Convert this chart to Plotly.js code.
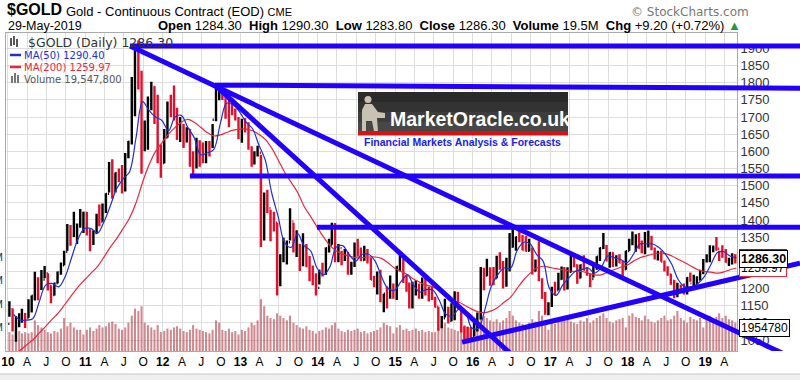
<!DOCTYPE html>
<html><head><meta charset="utf-8">
<script src="https://cdn.plot.ly/plotly-3.0.1.min.js"></script>
<style>html,body{margin:0;padding:0;background:#fff}#chart{width:800px;height:380px}</style>
</head><body><div id="chart"></div>
<script>
// ---------- DATA (semi-monthly bars, Jan 2010 - May 2019) ----------
const high = [
 1163,1142,1120,1128,1141,1129,1169,1180,1249,1233,1254,1266,1245,1210,1217,1250,1276,1310,1388,1385,1424,1390,1432,1424,
 1423,1375,1370,1418,1445,1448,1478,1569,1577,1538,1550,1560,1595,1630,1817,1912,1923,1835,1690,1760,1803,1790,1765,1620,
 1665,1745,1765,1792,1727,1700,1680,1670,1665,1600,1640,1632,1626,1630,1630,1680,1790,1788,1798,1755,1755,1755,1725,1700,
 1695,1697,1685,1615,1600,1616,1590,1480,1488,1430,1424,1392,1300,1348,1340,1434,1392,1370,1330,1361,1330,1295,1267,1245,
 1255,1275,1320,1345,1392,1391,1330,1310,1315,1307,1278,1334,1345,1320,1325,1315,1290,1237,1250,1255,1185,1207,1238,1215,
 1265,1307,1287,1240,1218,1220,1224,1215,1232,1232,1206,1205,1176,1147,1120,1170,1147,1157,1192,1191,1142,1090,1088,1088,
 1112,1130,1263,1261,1287,1262,1263,1296,1306,1280,1290,1362,1377,1352,1375,1356,1353,1345,1318,1285,1338,1230,1190,1160,
 1205,1220,1246,1264,1263,1262,1297,1295,1270,1270,1297,1262,1244,1272,1294,1320,1362,1327,1306,1306,1297,1300,1281,1310,
 1345,1366,1358,1362,1340,1365,1369,1354,1320,1310,1310,1282,1265,1243,1225,1217,1212,1215,1233,1247,1240,1236,1255,1286,
 1300,1326,1322,1350,1310,1326,1315,1290,1303,1300
];
const low = [
 1118,1075,1045,1087,1100,1085,1115,1130,1165,1166,1196,1230,1194,1157,1180,1215,1240,1268,1310,1325,1350,1330,1377,1362,
 1355,1309,1327,1360,1382,1395,1420,1480,1462,1480,1510,1477,1483,1580,1620,1702,1780,1535,1600,1605,1720,1680,1565,1523,
 1565,1640,1700,1690,1633,1627,1610,1626,1555,1527,1550,1555,1565,1565,1585,1610,1688,1749,1750,1695,1670,1705,1690,1635,
 1625,1655,1605,1555,1562,1585,1321,1340,1420,1338,1366,1180,1207,1277,1270,1340,1305,1292,1251,1265,1262,1221,1210,1180,
 1212,1235,1240,1305,1328,1277,1277,1268,1280,1240,1240,1263,1293,1280,1281,1273,1225,1204,1183,1160,1131,1142,1170,1170,
 1167,1250,1216,1191,1142,1142,1180,1170,1170,1180,1162,1167,1145,1077,1084,1116,1098,1105,1108,1141,1072,1052,1046,1047,
 1062,1075,1110,1195,1236,1208,1210,1230,1255,1200,1205,1250,1320,1310,1335,1312,1308,1308,1241,1250,1221,1170,1124,1122,
 1146,1180,1196,1226,1194,1197,1247,1262,1214,1230,1253,1237,1204,1232,1255,1280,1315,1279,1261,1263,1264,1275,1236,1255,
 1310,1326,1307,1316,1303,1300,1320,1312,1285,1282,1278,1250,1237,1211,1172,1175,1190,1183,1183,1220,1198,1212,1225,1242,
 1276,1277,1306,1310,1280,1290,1276,1266,1270,1273
];
const close = [
 1140,1083,1092,1118,1124,1113,1152,1179,1228,1212,1226,1245,1208,1181,1215,1247,1268,1307,1372,1357,1367,1386,1386,1421,
 1360,1333,1362,1410,1395,1432,1476,1556,1493,1537,1528,1500,1588,1628,1751,1828,1812,1622,1680,1745,1788,1745,1575,1566,
 1640,1738,1725,1697,1660,1669,1659,1663,1572,1563,1627,1604,1593,1622,1615,1692,1772,1773,1757,1717,1714,1711,1696,1675,
 1687,1663,1609,1578,1592,1596,1352,1470,1434,1392,1392,1234,1284,1311,1335,1396,1309,1327,1276,1323,1287,1251,1233,1202,
 1252,1244,1318,1326,1379,1284,1318,1288,1293,1250,1274,1322,1306,1283,1305,1287,1226,1210,1238,1172,1185,1175,1194,1184,
 1264,1279,1227,1213,1153,1183,1203,1183,1225,1190,1178,1172,1147,1095,1113,1134,1106,1115,1179,1142,1081,1065,1062,1060,
 1090,1118,1239,1238,1250,1234,1230,1291,1274,1216,1282,1322,1328,1350,1343,1312,1310,1317,1251,1276,1225,1173,1130,1152,
 1198,1195,1228,1255,1203,1249,1287,1268,1231,1268,1255,1242,1228,1270,1293,1318,1323,1284,1304,1270,1278,1275,1256,1309,
 1340,1345,1354,1318,1317,1327,1345,1315,1290,1298,1278,1253,1241,1223,1184,1206,1201,1196,1231,1215,1223,1226,1247,1283,
 1295,1322,1322,1316,1302,1295,1277,1283,1297,1286.3
];
const firstOpen = 1097;
// volume, millions of contracts (semi-monthly)
const volumeM = [
 16,14,18,17,15,16,15,16,26,22,20,18,16,15,17,16,19,28,21,24,20,18,18,14,
 18,20,17,19,22,20,21,24,25,23,19,18,20,24,30,36,34,38,24,22,20,18,22,16,
 17,19,18,20,21,19,17,16,18,22,19,18,17,16,15,18,26,24,18,17,19,16,17,14,
 18,17,20,24,22,26,44,38,30,28,27,32,30,28,26,30,24,22,20,19,21,18,17,15,
 17,18,20,19,22,24,19,17,16,18,17,18,19,16,17,15,16,17,18,20,24,22,21,15,
 20,22,18,19,17,18,19,17,18,16,17,16,16,20,22,24,20,19,18,17,20,22,21,16,
 22,24,32,30,28,26,25,27,24,26,28,34,30,26,24,23,22,24,27,25,34,30,26,18,
 24,23,25,26,27,28,25,24,23,26,25,28,24,26,28,30,32,28,25,24,26,27,28,20,
 30,32,29,28,26,30,27,25,24,26,28,30,26,27,30,34,28,26,24,29,27,26,28,20,
 28,30,27,29,32,28,30,27,26,24
];
// moving averages, month-end values
const ma50 = [
 1125,1108,1108,1112,1160,1210,1215,1205,1235,1290,1345,1375,
 1375,1362,1392,1440,1490,1520,1540,1640,1745,1720,1700,1690,
 1660,1700,1705,1670,1640,1590,1595,1605,1680,1740,1735,1715,
 1685,1665,1620,1575,1480,1410,1335,1320,1360,1325,1310,1260,
 1240,1265,1320,1325,1300,1280,1300,1300,1280,1235,1200,1195,
 1220,1240,1210,1190,1197,1195,1165,1125,1120,1140,1130,1085,
 1085,1140,1205,1240,1260,1260,1310,1335,1330,1300,1280,1200,
 1180,1210,1230,1250,1255,1260,1245,1260,1295,1290,1285,1275,
 1300,1330,1330,1330,1320,1300,1270,1225,1205,1205,1215,1235,
 1270,1305,1308,1295,1290.40
];
const ma200 = [
 1010,1020,1035,1050,1070,1090,1110,1130,1155,1180,1205,1225,
 1245,1265,1290,1320,1345,1375,1405,1450,1510,1560,1600,1625,
 1650,1670,1685,1693,1685,1670,1655,1645,1648,1655,1662,1665,
 1665,1660,1650,1635,1610,1575,1540,1510,1480,1440,1410,1380,
 1350,1325,1310,1300,1295,1290,1290,1292,1292,1288,1275,1260,
 1250,1240,1228,1218,1210,1205,1195,1180,1165,1160,1150,1140,
 1132,1130,1135,1145,1160,1175,1200,1225,1245,1260,1265,1262,
 1258,1255,1252,1250,1250,1245,1240,1240,1248,1255,1262,1268,
 1280,1290,1295,1300,1303,1302,1295,1285,1275,1265,1255,1250,
 1248,1245,1248,1255,1259.97
];
const lastVolume = 19547800;
// hand-drawn trend lines: [date, price] end points
const trendLines = [
 {from:['2011-07-31',1907], to:['2020-03-23',1907]},
 {from:['2012-09-03',1793], to:['2020-03-23',1784]},
 {from:['2012-05-08',1528], to:['2020-03-23',1528]},
 {from:['2013-12-28',1379], to:['2020-03-23',1379]},
 {from:['2011-07-31',1907], to:['2019-12-29',1012]},
 {from:['2012-09-03',1793], to:['2016-06-25',1012]},
 {from:['2015-11-12',1044], to:['2020-03-23',1274]}
];
const yearLabels = ['10','11','12','13','14','15','16','17','18','19'];
const quarterLabels = ['A','J','O'];
const volTickVals = [20e6,40e6,60e6,80e6];
const volTickText = ['20M','40M','60M','80M'];

// ---------- build x values ----------
const pad = n => String(n).padStart(2,'0');
const dates = [], maDates = [];
for (let y = 2010; y <= 2019; y++) {
  for (let m = 1; m <= 12; m++) {
    if (y === 2019 && m > 5) break;
    dates.push(`${y}-${pad(m)}-08`, `${y}-${pad(m)}-23`);
    maDates.push(`${y}-${pad(m)}-28`);
  }
}
const open = close.map((c, i) => i === 0 ? firstOpen : close[i - 1]);
const tickvals = [], ticktext = [];
yearLabels.forEach((yl, i) => {
  const y = 2010 + i;
  tickvals.push(`${y}-01-01`); ticktext.push(`<b>${yl}</b>`);
  [4,7,10].forEach((m, j) => {
    if (y === 2019 && m > 4) return;
    tickvals.push(`${y}-${pad(m)}-01`); ticktext.push(quarterLabels[j]);
  });
});

// ---------- geometry ----------
const W = 800, H = 380, T = 33, B = 29, PL = 6, PR = 737;
const px = x => x / W;
const py = y => (H - B - y) / (H - T - B);
const xRange = ['2009-12-23', '2019-05-31'];
const t0 = Date.parse(xRange[0]), t1 = Date.parse(xRange[1]);
const msPerPx = (t1 - t0) / (PR - PL);
const iso = ms => new Date(ms).toISOString().slice(0, 19).replace('T', ' ');
const x2Range = [iso(t0 - PL * msPerPx), iso(t0 + (W - PL) * msPerPx)];
const priceRange = [1018, 1945];

const BLUE = '#2200ff';
const traces = [
  {type:'bar', x:dates, y:volumeM.map(v => v * 1e6), xaxis:'x', yaxis:'y',
   marker:{color:'rgba(172,52,62,0.58)', line:{width:0}}, hoverinfo:'skip'},
  {type:'ohlc', x:dates, open:open, high:high, low:low, close:close, xaxis:'x', yaxis:'y2',
   increasing:{line:{color:'#000000', width:2.4}}, decreasing:{line:{color:'#e0102c', width:2.4}},
   tickwidth:0.4, hoverinfo:'skip'},
  {type:'scatter', mode:'lines', x:maDates, y:ma200, xaxis:'x', yaxis:'y2',
   line:{color:'#e5283f', width:1.2, shape:'spline'}, hoverinfo:'skip'},
  {type:'scatter', mode:'lines', x:maDates, y:ma50, xaxis:'x', yaxis:'y2',
   line:{color:'#2030d0', width:1.2, shape:'spline'}, hoverinfo:'skip'}
];
trendLines.forEach(l => traces.push({
  type:'scatter', mode:'lines', x:[l.from[0], l.to[0]], y:[l.from[1], l.to[1]],
  xaxis:'x2', yaxis:'y3', line:{color:BLUE, width:5}, hoverinfo:'skip'
}));

const shapes = [];
// MarketOracle logo panel
const bands = ['#2a2a2a','#333333','#3d3d3d','#474747'];
bands.forEach((c, i) => shapes.push({type:'rect', xref:'paper', yref:'paper',
  x0:px(358), x1:px(568), y0:py(92 + i*10), y1:py(92 + (i+1)*10), fillcolor:c, line:{width:0}, layer:'above'}));
shapes.push({type:'rect', xref:'paper', yref:'paper', x0:px(358), x1:px(568), y0:py(131), y1:py(135.5),
  fillcolor:'#d41414', line:{width:0}, layer:'above'});
// statue figure
const fig = [[365,104],[372,104],[378,112],[385,113],[385,118],[377,118],[378,131],[374,131],[372,121],[366,121],[366,131],[362,131],[362,110]];
shapes.push({type:'path', xref:'paper', yref:'paper', layer:'above',
  path:'M ' + fig.map(p => px(p[0]) + ' ' + py(p[1])).join(' L ') + ' Z', fillcolor:'#c9c1b2', line:{width:0}});
shapes.push({type:'circle', xref:'paper', yref:'paper', layer:'above', x0:px(364.5), x1:px(371.5), y0:py(96), y1:py(103),
  fillcolor:'#c9c1b2', line:{width:0}});
// legend dashes / icons
shapes.push({type:'line', xref:'paper', yref:'paper', x0:px(10), x1:px(21), y0:py(55), y1:py(55), line:{color:'#2030d0', width:2.5}});
shapes.push({type:'line', xref:'paper', yref:'paper', x0:px(10), x1:px(21), y0:py(67), y1:py(67), line:{color:'#e5283f', width:2.5}});
[[11,76],[14,73],[17,75]].forEach(b => shapes.push({type:'rect', xref:'paper', yref:'paper',
  x0:px(b[0]), x1:px(b[0]+2), y0:py(b[1]), y1:py(83), fillcolor:'#777', line:{width:0}}));
[[11,38,46],[14,36,45],[17,39,47]].forEach(b => shapes.push({type:'line', xref:'paper', yref:'paper',
  x0:px(b[0]), x1:px(b[0]), y0:py(b[1]), y1:py(b[2]), line:{color:'#222', width:1.5}}));
// bottom scroller band
shapes.push({type:'rect', xref:'paper', yref:'paper', x0:0, x1:1, y0:py(374), y1:py(381),
  fillcolor:'#efefef', line:{width:0}});
shapes.push({type:'line', xref:'paper', yref:'paper', x0:0, x1:1, y0:py(374), y1:py(374),
  line:{color:'#c8c8c8', width:1}});

const A = (text, x, y, o = {}) => Object.assign({text, xref:'paper', yref:'paper', x:px(x), y:py(y),
  xanchor:'left', yanchor:'middle', showarrow:false, font:{size:12, color:'#000'}}, o);
const annotations = [
  A('<b>$GOLD</b>', 5, 10, {font:{family:'Liberation Sans, Arial', size:16, color:'#000'}}),
  A('Gold - Continuous Contract (EOD) <span style="font-size:11px">CME</span>', 64, 12, {font:{size:13, color:'#000'}}),
  A('29-May-2019', 6, 26, {font:{size:12.5, color:'#000'}}),
  A('<b>Open</b> 1284.30&nbsp; <b>High</b> 1290.30&nbsp; <b>Low</b> 1283.80&nbsp; <b>Close</b> 1286.30&nbsp; <b>Volume</b> 19.5M&nbsp; <b>Chg</b> +9.20 (+0.72%) <span style="color:#22993a">▲</span>',
    156, 26, {font:{size:13, color:'#000'}}),
  A('© StockCharts.com', 629, 12, {font:{family:'DejaVu Sans', size:12, color:'#777'}}),
  A('$GOLD (Daily) 1286.30', 26, 42, {font:{family:'DejaVu Sans', size:12.5, color:'#333'}}),
  A('MA(50) 1290.40', 22, 55, {font:{family:'DejaVu Sans', size:10, color:'#2030d0'}}),
  A('MA(200) 1259.97', 22, 67, {font:{family:'DejaVu Sans', size:10, color:'#e5283f'}}),
  A('Volume 19,547,800', 22, 79, {font:{family:'DejaVu Sans', size:10, color:'#555'}}),
  A('MarketOracle.co.uk', 388, 119, {font:{family:'Liberation Sans', size:19.5, color:'#ffffff'}, text:'<b>MarketOracle.co.uk</b>'}),
  A('<b>Financial Markets Analysis &amp; Forecasts</b>', 362, 142, {font:{size:10.5, color:'#1a22ee'}}),
  // right-edge value tags
  {text:String(ma200[ma200.length-1]), xref:'paper', yref:'y2', x:px(739), y:ma200[ma200.length-1], xanchor:'left', yanchor:'middle',
   showarrow:false, bgcolor:'#fff', bordercolor:'#e5283f', borderwidth:1, borderpad:1, font:{size:12, color:'#000'}},
  {text:ma50[ma50.length-1].toFixed(2), xref:'paper', yref:'y2', x:px(739), y:ma50[ma50.length-1], xanchor:'left', yanchor:'middle',
   showarrow:false, bgcolor:'#fff', bordercolor:'#2030d0', borderwidth:1, borderpad:1, font:{size:12, color:'#000'}},
  {text:'<b>' + close[close.length-1].toFixed(2) + '</b>', xref:'paper', yref:'y2', x:px(739), y:close[close.length-1], xanchor:'left', yanchor:'middle',
   showarrow:false, bgcolor:'#fff', bordercolor:'#000', borderwidth:1, borderpad:1, font:{size:12.5, color:'#000'}},
  {text:String(lastVolume).slice(0,7), xref:'paper', yref:'y', x:px(739), y:lastVolume, xanchor:'left', yanchor:'middle',
   showarrow:false, bgcolor:'#fff', bordercolor:'#000', borderwidth:1, borderpad:1, font:{size:12, color:'#000'}}
];

const layout = {
  width:W, height:H, margin:{l:0, r:0, t:T, b:B, pad:0},
  paper_bgcolor:'#ffffff', plot_bgcolor:'rgba(0,0,0,0)', showlegend:false, bargap:0.25,
  font:{family:'Liberation Sans, Arial, sans-serif', size:12, color:'#000'},
  xaxis:{type:'date', domain:[PL/W, PR/W], range:xRange, anchor:'y', tickmode:'array', tickvals, ticktext,
    tickangle:0, ticks:'', showgrid:true, gridcolor:'#dddddd', gridwidth:1, showline:true, mirror:true,
    linecolor:'#aaaaaa', linewidth:1, tickfont:{size:12, color:'#000'}, rangeslider:{visible:false}, fixedrange:true},
  yaxis:{domain:[0,1], range:[0, 270e6], anchor:'x', side:'left', tickmode:'array', tickvals:volTickVals,
    ticktext:volTickText, showgrid:false, zeroline:false, showline:true, linecolor:'#aaaaaa', ticks:'',
    tickfont:{size:11, color:'#333'}, fixedrange:true},
  yaxis2:{overlaying:'y', side:'right', anchor:'x', range:priceRange, tick0:1000, dtick:50, showgrid:true,
    gridcolor:'#dddddd', gridwidth:1, zeroline:false, showline:true, linecolor:'#aaaaaa', ticks:'',
    tickfont:{size:13, color:'#333'}, fixedrange:true},
  xaxis2:{type:'date', domain:[0,1], range:x2Range, anchor:'y3', visible:false, fixedrange:true},
  yaxis3:{domain:[0,1], range:priceRange, anchor:'x2', visible:false, fixedrange:true},
  shapes, annotations
};
Plotly.newPlot('chart', traces, layout, {staticPlot:true, displayModeBar:false});
</script></body></html>
